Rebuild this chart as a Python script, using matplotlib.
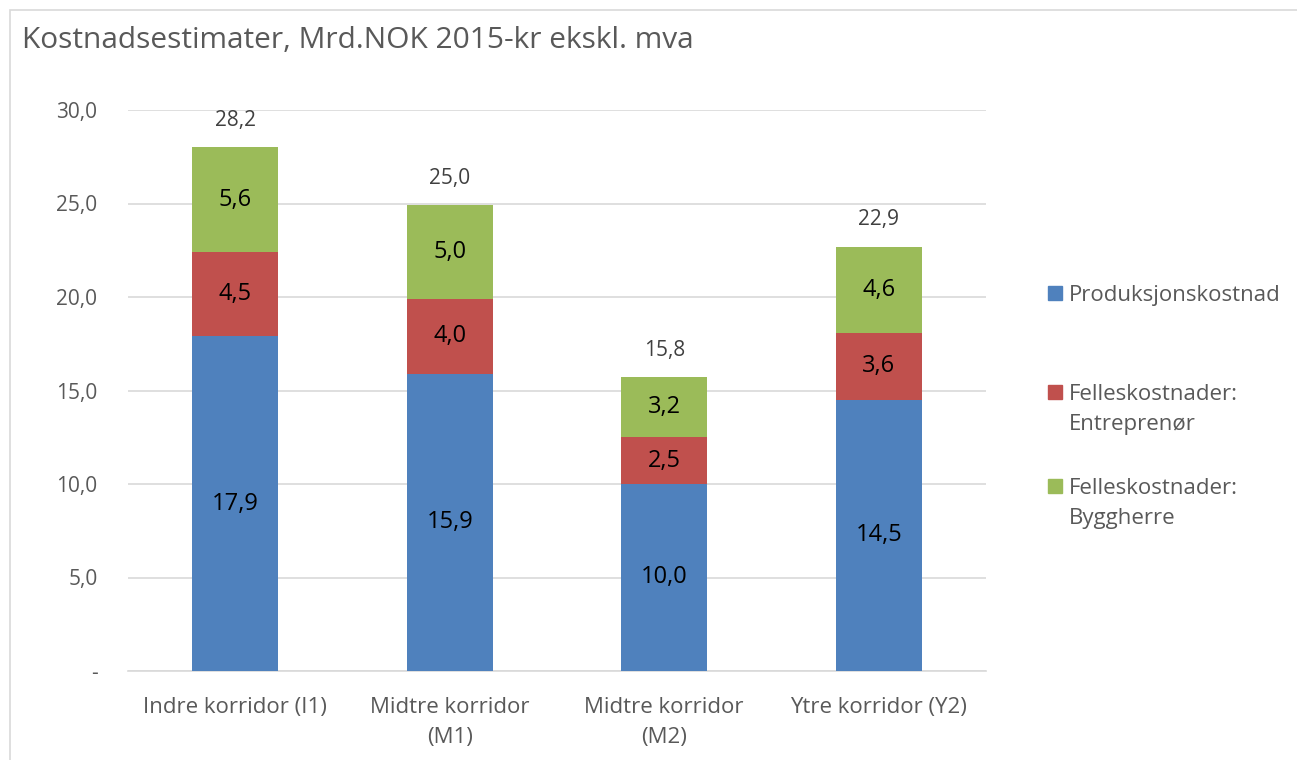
import numpy as np
import matplotlib.pyplot as plt
from matplotlib.patches import Rectangle

plt.rcParams['font.family'] = ['Open Sans', 'DejaVu Sans']

kategorier = ["Indre korridor (I1)", "Midtre korridor\n(M1)", "Midtre korridor\n(M2)", "Ytre korridor (Y2)"]
produksjon = [17.9, 15.9, 10.0, 14.5]
entreprenor = [4.5, 4.0, 2.5, 3.6]
byggherre = [5.6, 5.0, 3.2, 4.6]
totaler = [28.2, 25.0, 15.8, 22.9]

serier = ["Produksjonskostnad", "Felleskostnader:\nEntreprenør", "Felleskostnader:\nByggherre"]
farger = ["#4F81BD", "#C0504D", "#9BBB59"]
grå = "#595959"

W, H = 1297, 760
fig = plt.figure(figsize=(W/100, H/100), dpi=100)
ax = fig.add_axes([128/W, 1 - 671/H, 858/W, 561/H])

x = np.arange(len(kategorier))
b = 0.4

bunn = np.zeros(len(x))
for verdier, farge, navn in zip([produksjon, entreprenor, byggherre], farger, serier):
    stolper = ax.bar(x, verdier, b, bottom=bunn, color=farge, label=navn, zorder=3)
    for s, v in zip(stolper, verdier):
        ax.text(s.get_x() + s.get_width()/2, s.get_y() + s.get_height()/2,
                f"{v:.1f}".replace(".", ","), ha="center", va="center",
                fontsize=17, color="black", zorder=4)
    bunn += np.array(verdier)

for xi, top, tot in zip(x, bunn, totaler):
    ax.text(xi, top + 1.45, f"{tot:.1f}".replace(".", ","), ha="center", va="center",
            fontsize=15, color="#404040")

ax.set_xlim(-0.5, 3.5)
ax.set_ylim(0, 30)
ax.set_yticks(np.arange(0, 31, 5))
ax.set_yticklabels(["-"] + [f"{v:.1f}".replace(".", ",") for v in np.arange(5, 31, 5)])
ax.set_xticks(x)
ax.set_xticklabels(kategorier, linespacing=1.55)
ax.tick_params(axis="both", length=0, colors=grå)
ax.tick_params(axis="y", pad=22, labelsize=15)
ax.tick_params(axis="x", pad=19, labelsize=16)
ax.grid(axis="y", color="#D9D9D9", linewidth=1.2, zorder=0)
for side in ["top", "right", "left"]:
    ax.spines[side].set_visible(False)
ax.spines["bottom"].set_color("#D9D9D9")
ax.spines["bottom"].set_linewidth(1.2)

# forklaring, ruta ved første tekstlinje
leg_y = [293, 392, 486]
for navn, farge, yy in zip(serier, farger, leg_y):
    fig.patches.append(Rectangle((1048/W, 1 - (yy + 7)/H), 14/W, 14/H,
                                 transform=fig.transFigure, color=farge))
    fig.text(1069/W, 1 - (yy - 8)/H, navn, fontsize=16, color=grå,
             ha="left", va="top", linespacing=1.55)

fig.text(22/W, 1 - 41/H, "Kostnadsestimater, Mrd.NOK 2015-kr ekskl. mva",
         fontsize=21.5, color=grå, va="center", ha="left")

fig.patches.append(Rectangle((10/W, -0.1), 1.2, 1 - 10/H + 0.1, transform=fig.transFigure,
                             fill=False, edgecolor="#D9D9D9", linewidth=1.2))

fig.savefig("out.png", dpi=100)
